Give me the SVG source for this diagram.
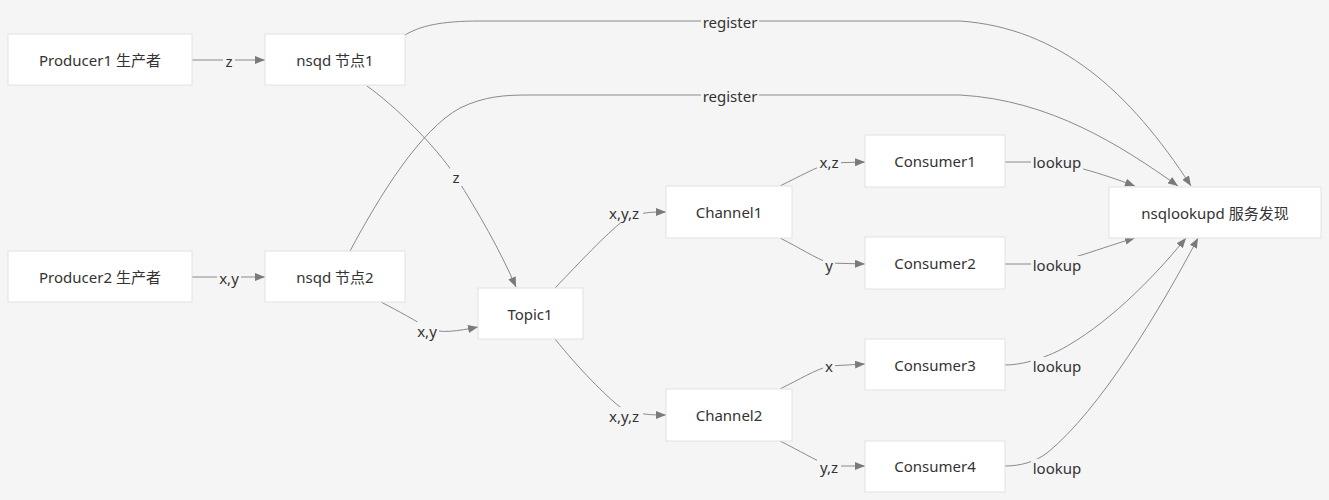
<svg xmlns="http://www.w3.org/2000/svg" width="1329" height="500" viewBox="0 0 1329 500">
<style>
.node rect{fill:#ffffff;stroke:#e2e2e2;stroke-width:1}
.node text{font-family:"Noto Sans","Noto Sans CJK SC",sans-serif;font-size:15px;fill:#333;text-anchor:middle;dominant-baseline:central}
.edge{fill:none;stroke:#8a8a8a;stroke-width:1}
.lbg{fill:#f5f5f5}
.lbl{font-family:"Noto Sans","Noto Sans CJK SC",sans-serif;font-size:15px;fill:#333;text-anchor:middle;dominant-baseline:central}
</style>
<defs>
<marker id="arr" markerWidth="10" markerHeight="8" refX="10" refY="4" orient="auto" markerUnits="userSpaceOnUse">
<path d="M0,0 L10,4 L0,8 z" fill="#7a7a7a"/>
</marker>
</defs>
<rect x="0" y="0" width="1329" height="500" fill="#f5f5f5"/>
<g id="connectors">
<path class="edge" d="M192,60 L265,60" marker-end="url(#arr)"/>
<path class="edge" d="M192,277 L265,277" marker-end="url(#arr)"/>
<path class="edge" d="M367,86 C395,106 435,145 456,177 C478,212 500,250 516,287" marker-end="url(#arr)"/>
<path class="edge" d="M381,302 C400,312 415,320 427,328 C440,334 458,331 478,327" marker-end="url(#arr)"/>
<path class="edge" d="M405,35 C420,26 440,21 480,21 L960,21 C1060,28 1130,92 1191,186" marker-end="url(#arr)"/>
<path class="edge" d="M350,251 C380,195 420,130 460,108 C485,96 505,95 530,95 L960,95 C1050,100 1120,145 1178,186" marker-end="url(#arr)"/>
<path class="edge" d="M555,288 C580,262 605,235 624,220 C640,212 650,212 666,212" marker-end="url(#arr)"/>
<path class="edge" d="M555,339 C580,370 605,395 620,407 C640,415 650,415 666,415" marker-end="url(#arr)"/>
<path class="edge" d="M780,186 C800,176 815,168 829,163 L865,162" marker-end="url(#arr)"/>
<path class="edge" d="M780,238 C800,248 815,258 829,263 L865,264" marker-end="url(#arr)"/>
<path class="edge" d="M780,389 C800,379 815,370 829,366 L865,364" marker-end="url(#arr)"/>
<path class="edge" d="M780,441 C800,451 815,460 829,466 L865,466" marker-end="url(#arr)"/>
<path class="edge" d="M1005,162 L1040,162 C1065,162 1100,173 1135,186" marker-end="url(#arr)"/>
<path class="edge" d="M1005,264 L1040,264 C1068,262 1100,248 1135,238" marker-end="url(#arr)"/>
<path class="edge" d="M1005,365 C1020,365 1040,360 1060,350 C1105,326 1150,282 1186,238" marker-end="url(#arr)"/>
<path class="edge" d="M1005,466 C1020,466 1035,462 1047,453 C1100,410 1160,310 1198,238" marker-end="url(#arr)"/>
<g id="edge-labels">
<rect class="lbg" x="223" y="52" width="12" height="18"/><text class="lbl" x="229" y="61">z</text>
<rect class="lbg" x="217" y="269" width="24" height="18"/><text class="lbl" x="229" y="278">x,y</text>
<rect class="lbg" x="450" y="168" width="12" height="18"/><text class="lbl" x="456" y="177">z</text>
<rect class="lbg" x="415" y="322" width="24" height="18"/><text class="lbl" x="427" y="331">x,y</text>
<rect class="lbg" x="701" y="13" width="58" height="18"/><text class="lbl" x="730" y="22">register</text>
<rect class="lbg" x="701" y="87" width="58" height="18"/><text class="lbl" x="730" y="96">register</text>
<rect class="lbg" x="605" y="204" width="38" height="18"/><text class="lbl" x="624" y="213">x,y,z</text>
<rect class="lbg" x="605" y="407" width="38" height="18"/><text class="lbl" x="624" y="416">x,y,z</text>
<rect class="lbg" x="817" y="153" width="24" height="18"/><text class="lbl" x="829" y="162">x,z</text>
<rect class="lbg" x="823" y="256" width="12" height="18"/><text class="lbl" x="829" y="265">y</text>
<rect class="lbg" x="823" y="357" width="12" height="18"/><text class="lbl" x="829" y="366">x</text>
<rect class="lbg" x="817" y="458" width="24" height="18"/><text class="lbl" x="829" y="467">y,z</text>
<rect class="lbg" x="1031" y="153" width="52" height="18"/><text class="lbl" x="1057" y="162">lookup</text>
<rect class="lbg" x="1031" y="256" width="52" height="18"/><text class="lbl" x="1057" y="265">lookup</text>
<rect class="lbg" x="1031" y="357" width="52" height="18"/><text class="lbl" x="1057" y="366">lookup</text>
<rect class="lbg" x="1031" y="459" width="52" height="18"/><text class="lbl" x="1057" y="468">lookup</text>
</g>
</g>
<g id="producer1" class="node"><rect x="8" y="34" width="184" height="51"/><text x="100" y="60">Producer1 生产者</text></g>
<g id="nsqd1" class="node"><rect x="265" y="34" width="140" height="51"/><text x="335" y="60">nsqd 节点1</text></g>
<g id="producer2" class="node"><rect x="8" y="251" width="184" height="51"/><text x="100" y="277">Producer2 生产者</text></g>
<g id="nsqd2" class="node"><rect x="265" y="251" width="140" height="51"/><text x="335" y="277">nsqd 节点2</text></g>
<g id="topic1" class="node"><rect x="478" y="288" width="105" height="51"/><text x="530" y="314">Topic1</text></g>
<g id="channel1" class="node"><rect x="666" y="186" width="126" height="52"/><text x="729" y="212">Channel1</text></g>
<g id="channel2" class="node"><rect x="666" y="389" width="126" height="52"/><text x="729" y="415">Channel2</text></g>
<g id="consumer1" class="node"><rect x="865" y="135" width="140" height="52"/><text x="935" y="161">Consumer1</text></g>
<g id="consumer2" class="node"><rect x="865" y="237" width="140" height="52"/><text x="935" y="263">Consumer2</text></g>
<g id="consumer3" class="node"><rect x="865" y="339" width="140" height="51"/><text x="935" y="365">Consumer3</text></g>
<g id="consumer4" class="node"><rect x="865" y="441" width="140" height="51"/><text x="935" y="466">Consumer4</text></g>
<g id="nsqlookupd" class="node"><rect x="1109" y="187" width="212" height="51"/><text x="1215" y="213">nsqlookupd 服务发现</text></g>
</svg>
